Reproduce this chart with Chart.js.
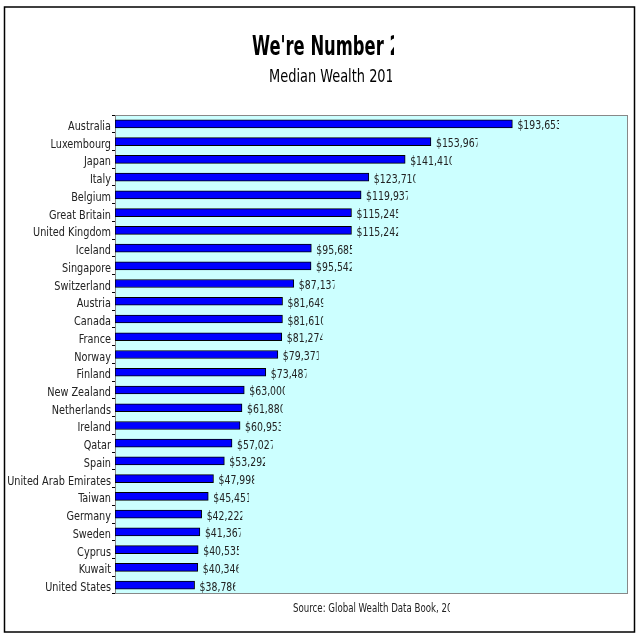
<!DOCTYPE html>
<html>
<head>
<meta charset="utf-8">
<script src="https://cdn.jsdelivr.net/npm/chart.js@4.4.1/dist/chart.umd.min.js"></script>
<style>
html,body{margin:0;padding:0;background:#fff;}
#wrap{width:640px;height:640px;}
</style>
</head>
<body>
<div id="wrap"><canvas id="wealthChart" width="640" height="640"></canvas></div>
<script>
// chart data
const countries=["Australia","Luxembourg","Japan","Italy","Belgium","Great Britain","United Kingdom","Iceland","Singapore","Switzerland","Austria","Canada","France","Norway","Finland","New Zealand","Netherlands","Ireland","Qatar","Spain","United Arab Emirates","Taiwan","Germany","Sweden","Cyprus","Kuwait","United States"];
const medianWealth=[193653,153967,141410,123710,119937,115245,115242,95685,95542,87137,81649,81610,81274,79371,73487,63000,61880,60953,57027,53292,47998,45451,42222,41367,40535,40346,38786];
const xMax=250000;

const titleText="We're Number 27";
const subtitleText="Median Wealth 2011";
const sourceText="Source: Global Wealth Data Book, 2011";

const fam="'DejaVu Sans Condensed','DejaVu Sans',sans-serif";

// text squeezed sideways, and cut off at clipRight like the original picture
function squashText(c,text,x,y,font,sx,align,clipRight,color){
c.save();
c.font=font;
if(clipRight!=null){
c.beginPath();
c.rect(x-2,y-40,clipRight-x+2,60);
c.clip();
}
c.translate(x,y);
c.scale(sx,1);
c.fillStyle=color||"#000";
c.textAlign=align;
c.textBaseline="alphabetic";
c.fillText(text,0,0);
c.restore();
}

const framePlugin={
id:"frame",
beforeDraw(chart){
const c=chart.ctx;
const a=chart.chartArea;
c.save();
c.fillStyle="#fff";
c.fillRect(0,0,chart.width,chart.height);
c.fillStyle="#ccffff";
c.fillRect(a.left,a.top,a.right-a.left,a.bottom-a.top);
c.strokeStyle="#888";
c.lineWidth=1;
c.strokeRect(a.left+0.5,a.top+0.5,a.right-a.left-1,a.bottom-a.top-1);
// outer frame
c.strokeStyle="#000";
c.lineWidth=1.5;
c.strokeRect(4.5,7,630,625);
c.restore();
},
afterDraw(chart){
const c=chart.ctx;
squashText(c,titleText,252,55,"bold 26px "+fam,0.7,"left",394);
squashText(c,subtitleText,269,82,"18px "+fam,0.8,"left",392);
squashText(c,sourceText,293,612,"12px "+fam,0.8,"left",450,"#222");
// category labels, placed by the y scale
const y=chart.scales.y;
countries.forEach((name,i)=>{
squashText(c,name,111,y.getPixelForTick(i)+6,"13px "+fam,0.83,"right",null,"#222");
});
}
};

const valuePlugin={
id:"values",
afterDatasetsDraw(chart){
const c=chart.ctx;
const meta=chart.getDatasetMeta(0);
const sx=0.8;
c.save();
c.font="13px "+fam;
meta.data.forEach((bar,i)=>{
const txt="$"+medianWealth[i].toLocaleString("en-US");
const x=bar.x+5;
const w=c.measureText(txt).width*sx;
squashText(c,txt,x,bar.y+5.5,"13px "+fam,sx,"left",x+w-3,"#222");
});
c.restore();
}
};

const ctx=document.getElementById("wealthChart").getContext("2d");

const wealthChart=new Chart(ctx,{
type:"bar",
data:{
labels:countries,
datasets:[{
data:medianWealth,
backgroundColor:"#0000ff",
borderColor:"#000",
borderWidth:1,
borderSkipped:false,
barThickness:8
}]
},
options:{
indexAxis:"y",
responsive:false,
animation:false,
devicePixelRatio:1,
layout:{padding:{left:0,top:115,right:12,bottom:46}},
plugins:{legend:{display:false},tooltip:{enabled:false}},
scales:{
x:{display:false,min:0,max:xMax},
y:{
afterFit(scale){scale.width=115;},
border:{display:false},
grid:{offset:true,drawOnChartArea:false,drawTicks:true,tickLength:3,color:"#000"},
ticks:{display:false,autoSkip:false}
}
}
},
plugins:[framePlugin,valuePlugin]
});
</script>
</body>
</html>
